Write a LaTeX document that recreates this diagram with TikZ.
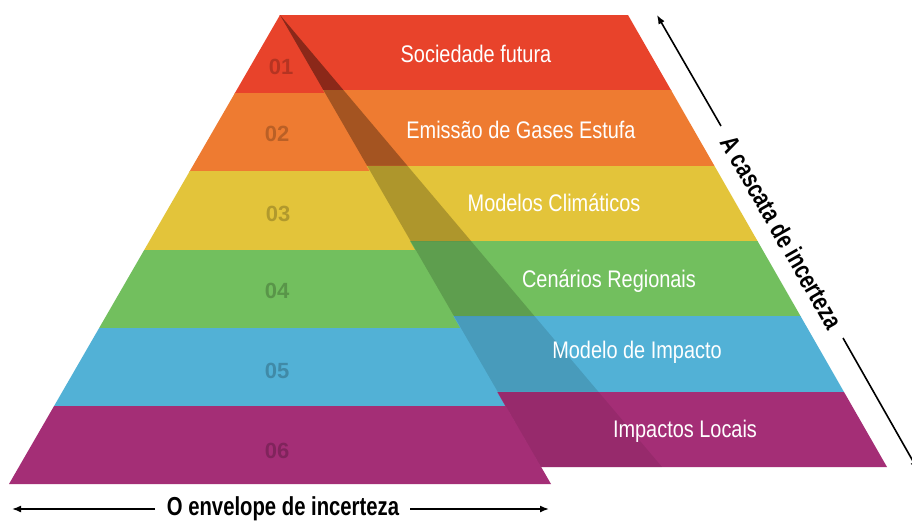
\documentclass[tikz,border=0pt]{standalone}
\usepackage{fontspec}
\setmainfont{Liberation Sans}
\newfontfamily\condfont[FakeStretch=0.83]{Liberation Sans}
\newfontfamily\boldcond[FakeStretch=0.78]{Liberation Sans}
\usetikzlibrary{arrows.meta,calc}
\definecolor{c1}{HTML}{E8432B}
\definecolor{c2}{HTML}{EE7B31}
\definecolor{c3}{HTML}{E3C43A}
\definecolor{c4}{HTML}{72BF5E}
\definecolor{c5}{HTML}{52B1D6}
\definecolor{c6}{HTML}{A42E76}
\tikzset{
  bandlabel/.style={text=white, font=\condfont\fontsize{24}{28}\selectfont, anchor=base, inner sep=0pt},
  numlabel/.style={font=\bfseries\fontsize{22}{26}\selectfont, anchor=base, inner sep=0pt},
  axislabel/.style={font=\boldcond\bfseries\fontsize{26}{30}\selectfont, inner sep=0pt},
  axisarrow/.style={line width=1.6pt, -{Latex[length=9pt,width=7pt]}},
}
\begin{document}
\begin{tikzpicture}[x=1pt,y=-1pt]
\useasboundingbox (0,0) rectangle (912,520);
\fill[white] (0,0) rectangle (912,520);
% key points
\coordinate (apex) at (280,15);
\coordinate (lbl) at (9,484);
\coordinate (lbr) at (551,484);
\coordinate (rtr) at (628,15);
\coordinate (rbr) at (887,467);
\coordinate (abot) at (541.2,467);
\coordinate (bbot) at (662,467);
% left pyramid (envelope)
\begin{scope}
  \clip (apex) -- (lbl) -- (lbr) -- cycle;
  \foreach \c [count=\i from 0] in {c1,c2,c3,c4,c5,c6}
    \fill[\c] (0,{15+78.1667*\i}) rectangle (912,{15+78.1667*(\i+1)+0.6});
\end{scope}
% right shape (cascade)
\begin{scope}
  \clip ([xshift=-0.6pt]apex) -- (rtr) -- (rbr) -- ([xshift=-0.6pt]abot) -- cycle;
  \foreach \c [count=\i from 0] in {c1,c2,c3,c4,c5,c6}
    \fill[\c] (0,{15+75.3333*\i}) rectangle (912,{15+75.3333*(\i+1)+0.6});
\end{scope}
% darkened strip
\foreach \o [count=\i from 0] in {0.40,0.31,0.23,0.17,0.12,0.08}
  \fill[black, fill opacity=\o]
    ($(apex)!{\i/6}!(abot)$) -- ($(apex)!{\i/6}!(bbot)$) --
    ($(apex)!{(\i+1)/6}!(bbot)$) -- ($(apex)!{(\i+1)/6}!(abot)$) -- cycle;
% numbers
\node[numlabel, text=c1!78!black] (n1) at (281,74) {01};
\node[numlabel, text=c2!78!black] (n2) at (277,141) {02};
\node[numlabel, text=c3!78!black] (n3) at (278,221) {03};
\node[numlabel, text=c4!78!black] (n4) at (277,298) {04};
\node[numlabel, text=c5!78!black] (n5) at (277,378) {05};
\node[numlabel, text=c6!78!black] (n6) at (277,458) {06};
% band labels
\node[bandlabel] (t1) at (476,62) {Sociedade futura};
\node[bandlabel] (t2) at (521,138) {Emissão de Gases Estufa};
\node[bandlabel] (t3) at (554,211) {Modelos Climáticos};
\node[bandlabel] (t4) at (609,287) {Cenários Regionais};
\node[bandlabel] (t5) at (637,358) {Modelo de Impacto};
\node[bandlabel] (t6) at (685,437) {Impactos Locais};
% bottom axis
\node[axislabel, anchor=base] (foot) at (283,515.5) {O envelope de incerteza};
\coordinate (fl1) at (155,509);
\coordinate (fl0) at (12,509);
\coordinate (fr1) at (410,509);
\coordinate (fr0) at (549,509);
\draw[axisarrow] (fl1) -- (fl0);
\draw[axisarrow] (fr1) -- (fr0);
% side axis
\node[axislabel, rotate=-60.2] (side) at (782,232) {A cascata de incerteza};
\coordinate (su1) at (721,126);
\coordinate (su0) at (657,15);
\coordinate (sd1) at (843,338);
\coordinate (sd0) at (918,470);
\draw[axisarrow] (su1) -- (su0);
\draw[axisarrow] (sd1) -- (sd0);
\end{tikzpicture}
\end{document}
